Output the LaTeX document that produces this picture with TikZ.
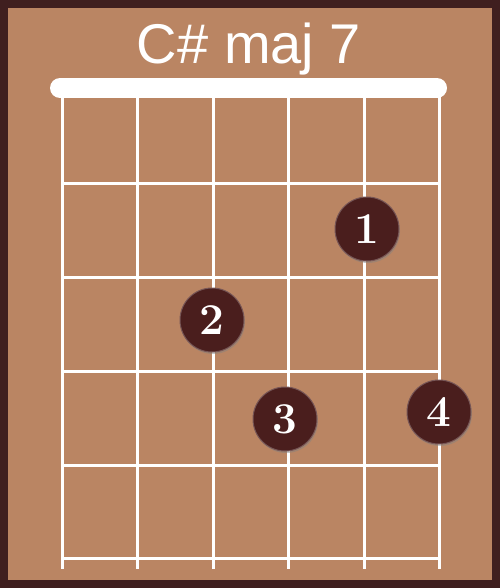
\documentclass[tikz,border=0pt]{standalone}
\usepackage{fontspec}
\newfontfamily\titlefont{Liberation Sans}
\usetikzlibrary{shadows}

\definecolor{board}{HTML}{BA8563}
\definecolor{frame}{HTML}{3F1F1F}
\definecolor{dotfill}{HTML}{4A1E1D}

\begin{document}
\begin{tikzpicture}[x=1pt, y=-1pt,
  wire/.style ={draw=white, line width=3pt},
  nut/.style  ={draw=white, line width=20pt, line cap=round},
  title/.style={anchor=base, text=white, inner sep=0pt,
                font=\titlefont\fontsize{56}{56}\selectfont},
  finger/.style={circle, fill=dotfill, draw=dotfill!75!white,
                 line width=1pt, minimum size=64pt, inner sep=0pt,
                 text=white, font=\fontsize{44}{44}\selectfont\bfseries,
                 drop shadow={opacity=0.45, shadow xshift=1pt,
                              shadow yshift=-2pt}},
]
\useasboundingbox (0,0) rectangle (500,588);

% === Board ===
\fill[frame] (0,0) rectangle (500,588);
\fill[board] (8,8) rectangle (492,580);

\node[title] (name) at (249,64) {C\# maj 7};

% === Nut ===
\draw[nut] (60,88) -- (437,88);

% === Strings ===
\draw[wire] (62,96)    -- (62,569);
\draw[wire] (137.5,96) -- (137.5,569);
\draw[wire] (213,96)   -- (213,569);
\draw[wire] (288.5,96) -- (288.5,569);
\draw[wire] (364,96)   -- (364,569);
\draw[wire] (439.5,96) -- (439.5,569);

% === Frets ===
\draw[wire] (62,183) -- (439.5,183);
\draw[wire] (62,277) -- (439.5,277);
\draw[wire] (62,371) -- (439.5,371);
\draw[wire] (62,465) -- (439.5,465);
\draw[wire] (62,558) -- (439.5,558);

% === Fingers ===
\node[finger] (f1) at (367,229) {1};
\node[finger] (f2) at (212,320) {2};
\node[finger] (f3) at (285,419) {3};
\node[finger] (f4) at (439,412) {4};

\end{tikzpicture}
\end{document}
